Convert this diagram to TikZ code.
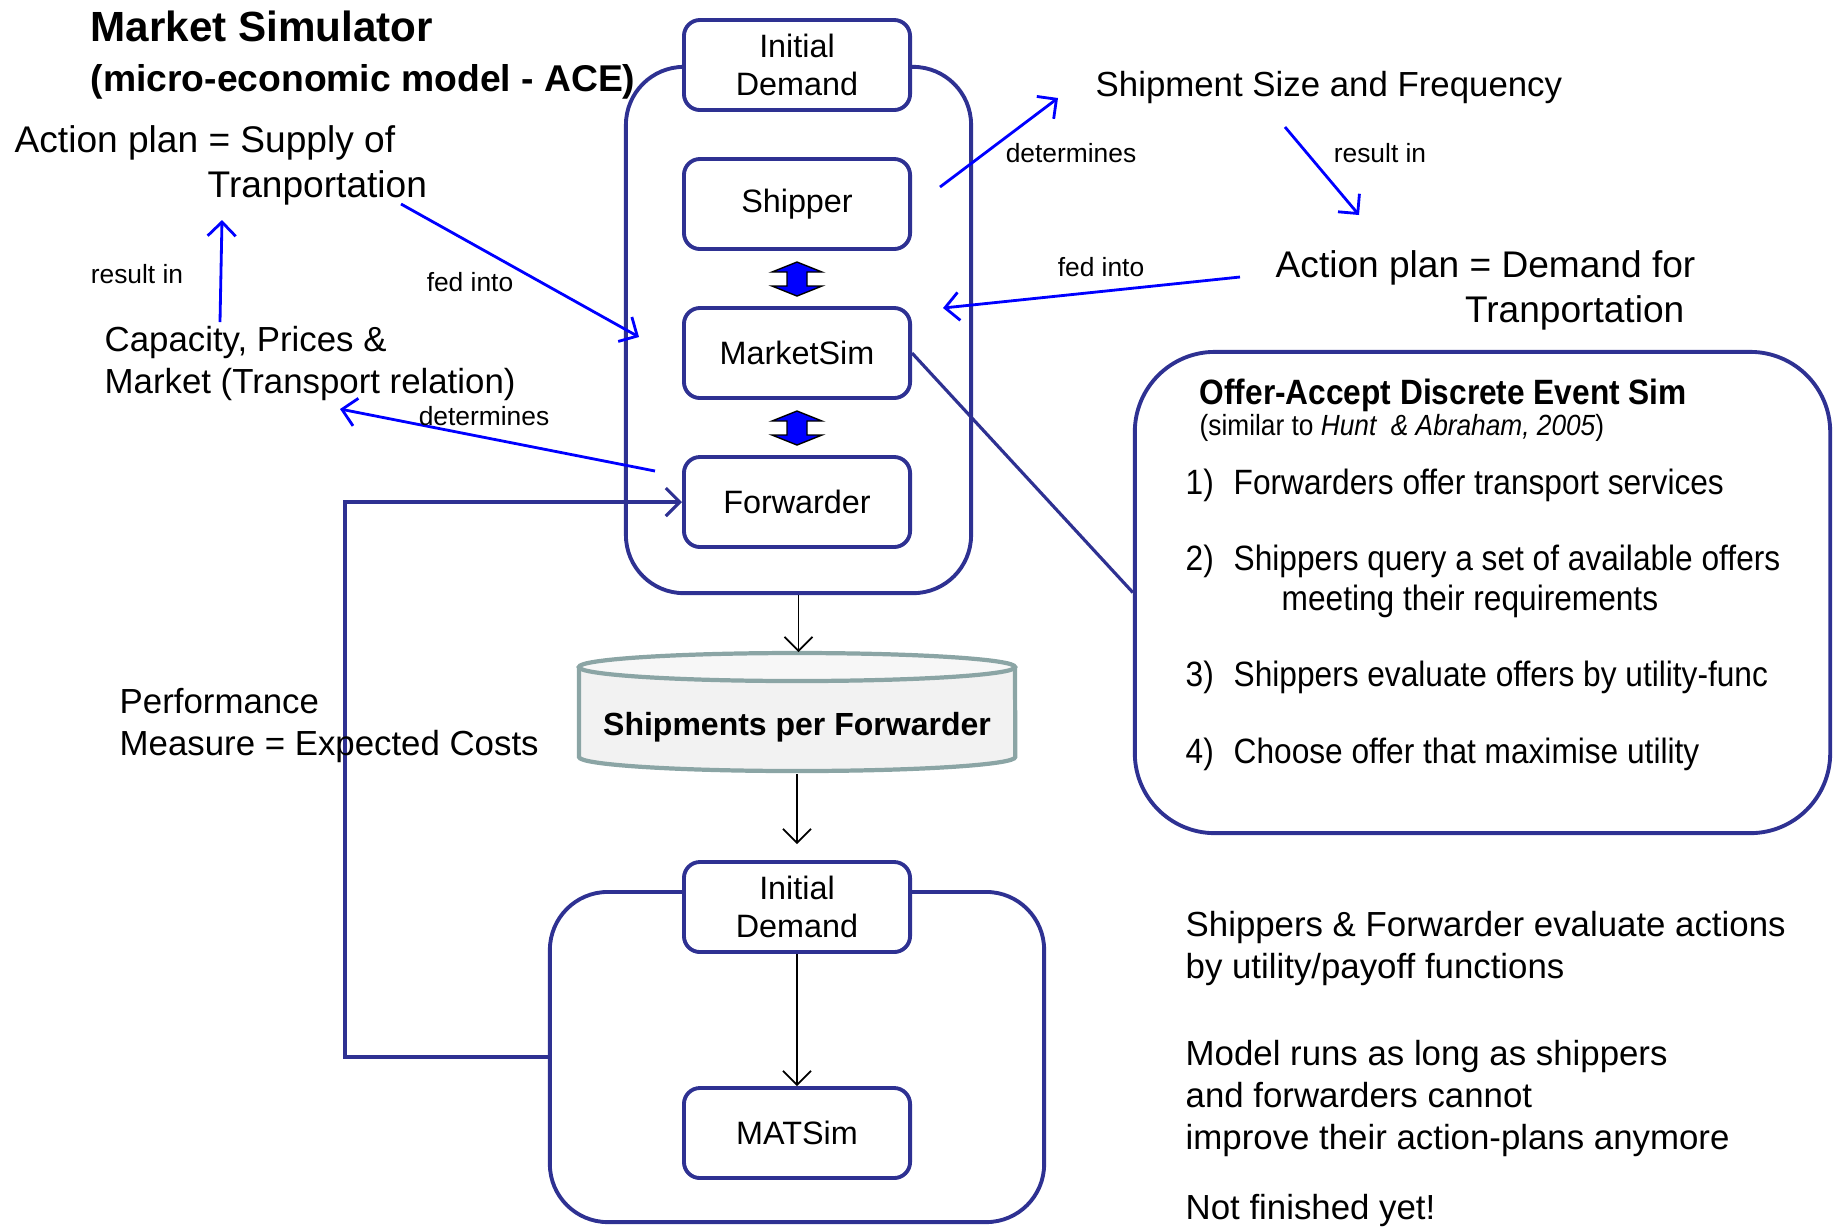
\documentclass[tikz,border=0pt]{standalone}
\usepackage{fontspec}
\setmainfont{Liberation Sans}
\newfontfamily\narrowsans[FakeStretch=0.9]{Liberation Sans}
\usetikzlibrary{arrows.meta}
\definecolor{navy}{RGB}{46,49,146}
\definecolor{dbline}{RGB}{139,165,165}
\definecolor{dbfill}{RGB}{242,242,242}
\definecolor{dbtop}{RGB}{247,247,247}
\begin{document}
\begin{tikzpicture}[x=0.01cm,y=-0.01cm,
    simbox/.style={draw=navy,line width=1.1pt,rounded corners=1.6mm,fill=white,
      minimum width=2.26cm,minimum height=0.9cm,align=center,inner sep=0pt,
      font=\fontsize{9.2}{10.6}\selectfont},
    frame/.style={draw=navy,line width=1.1pt,rounded corners=5.8mm,inner sep=0pt},
    link/.style={blue,line width=0.8pt,-{Straight Barb[length=1.4mm,width=2.8mm]}},
    flow/.style={black,line width=0.5pt,-{Straight Barb[length=1.4mm,width=2.8mm]}},
    lbl/.style={font=\fontsize{7.5}{9}\selectfont,inner sep=0pt},
    txt/.style={font=\fontsize{9.9}{12}\selectfont,anchor=base west,inner sep=0pt},
    bigtxt/.style={txt,font=\fontsize{10.55}{12}\selectfont},
    item/.style={font=\narrowsans\fontsize{10}{12}\selectfont,anchor=base west,inner sep=0pt},
  ]
\useasboundingbox (0,0) rectangle (1834,1226);

% frames
\node[frame,minimum width=3.45cm,minimum height=5.26cm] (mkt) at (798.5,330) {};
\node[frame,minimum width=4.94cm,minimum height=3.30cm] (lsp) at (797,1057) {};
\node[frame,rounded corners=8mm,minimum width=6.95cm,minimum height=4.81cm] (offer) at (1482.5,592.5) {};

% market simulator boxes
\node[simbox] (dem) at (797,65) {Initial\\Demand};
\node[simbox] (ship) at (797,204) {Shipper};
\node[simbox] (ms) at (797,353) {MarketSim};
\node[simbox] (fwd) at (797,502) {Forwarder};

% up-down arrows
\foreach \yy in {279,428}
  \draw[fill=blue,draw=black,line width=0.4pt]
    (797,\yy-17) -- (822,\yy-7) -- (807,\yy-7) -- (807,\yy+7) -- (822,\yy+7)
    -- (797,\yy+17) -- (772,\yy+7) -- (787,\yy+7) -- (787,\yy-7) -- (772,\yy-7) -- cycle;

% shipments store
\draw[dbline,line width=1.2pt,fill=dbfill] (579,667) -- (579,757)
  arc[start angle=180,end angle=360,x radius=2.18cm,y radius=0.14cm] -- (1015,667);
\draw[dbline,line width=1.2pt,fill=dbtop] (797,667) ellipse [x radius=2.18cm,y radius=0.14cm];
\node[font=\bfseries\fontsize{9.1}{11}\selectfont] (store) at (797,727) {Shipments per Forwarder};
\coordinate (storetop) at (797,652);
\coordinate (storebot) at (797,774);

% MATSim part
\node[simbox] (dem2) at (797,907) {Initial\\Demand};
\node[simbox] (mat) at (797,1133) {MATSim};

\draw[flow] (mkt.south) -- (mkt.south |- storetop);
\draw[flow,shorten >=1.6mm] (storebot) -- (dem2.north);
\draw[flow] (dem2.south) -- (mat.north);
\draw[navy,line width=0.9pt,-{Straight Barb[length=1.4mm,width=2.8mm]}]
  (lsp.west) -- (345,1057) |- (fwd.west);
\draw[navy,line width=0.9pt] (ms.east) -- (offer.west);

% texts
\node[font=\bfseries\fontsize{12}{14}\selectfont,anchor=base west,inner sep=0pt] (title) at (90,41) {Market Simulator};
\node[font=\bfseries\fontsize{10.6}{14}\selectfont,anchor=base west,inner sep=0pt] (subtitle) at (90,91) {(micro-economic model - ACE)};
\node[bigtxt] (sup1) at (14,152) {Action plan = Supply of};
\node[bigtxt] (sup2) at (207,197) {Tranportation};
\node[txt] (cap1) at (104,351) {Capacity, Prices \&};
\node[txt] (cap2) at (104,393) {Market (Transport relation)};
\node[txt] (size) at (1095,96) {Shipment Size and Frequency};
\node[bigtxt] (dmd1) at (1275,277) {Action plan = Demand for};
\node[bigtxt,anchor=base east] (dmd2) at (1685,322) {Tranportation};
\node[txt] (perf1) at (119,713) {Performance};
\node[txt] (perf2) at (119,755) {Measure = Expected Costs};
\node[txt] (eval1) at (1185,936) {Shippers \& Forwarder evaluate actions};
\node[txt] (eval2) at (1185,978) {by utility/payoff functions};
\node[txt] (run1) at (1185,1065) {Model runs as long as shippers};
\node[txt] (run2) at (1185,1107) {and forwarders cannot};
\node[txt] (run3) at (1185,1149) {improve their action-plans anymore};
\node[txt] (todo) at (1185,1219) {Not finished yet!};

% offer-accept box text
\node[item,font=\narrowsans\bfseries\fontsize{10}{12}\selectfont] (oatitle) at (1199,404) {Offer-Accept Discrete Event Sim};
\node[item,font=\narrowsans\fontsize{8.3}{10}\selectfont] (oaref) at (1199,435) {(similar to \textit{Hunt\ \ \& Abraham, 2005})};
\foreach \n/\yy/\t in {1/494/Forwarders offer transport services,
    2/570/Shippers query a set of available offers,
    3/686/Shippers evaluate offers by utility-func,
    4/763/Choose offer that maximise utility} {
  \node[item] (num\n) at (1185,\yy) {\n)};
  \node[item] (step\n) at (1233,\yy) {\t};
}
\node[item] (step2b) at (1281,610) {meeting their requirements};

% blue links
\coordinate (detA) at (940,187);   \coordinate (detB) at (1058,98);
\coordinate (resA) at (1285,127);  \coordinate (resB) at (1359,215);
\coordinate (fedA) at (1240,277);  \coordinate (fedB) at (943,308);
\coordinate (fedC) at (401,204);   \coordinate (fedD) at (639,337);
\coordinate (resC) at (220,322);   \coordinate (resD) at (222,220);
\coordinate (detC) at (655,471);   \coordinate (detD) at (340,409);
\draw[link] (detA) -- (detB);
\draw[link] (resA) -- (resB);
\draw[link] (fedA) -- (fedB);
\draw[link] (fedC) -- (fedD);
\draw[link] (resC) -- (resD);
\draw[link] (detC) -- (detD);
\node[lbl] (l1) at (1071,153) {determines};
\node[lbl] (l2) at (1380,153) {result in};
\node[lbl] (l3) at (1101,267) {fed into};
\node[lbl] (l4) at (470,282) {fed into};
\node[lbl] (l5) at (137,274) {result in};
\node[lbl] (l6) at (484,416) {determines};
\end{tikzpicture}
\end{document}
